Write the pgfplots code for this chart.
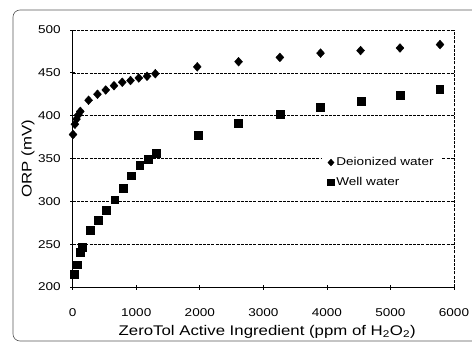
\documentclass[border=0pt]{standalone}
\usepackage{pgfplots}
\pgfplotsset{compat=1.18}
\usepackage{fontspec}
\setmainfont[FakeStretch=1.2]{Liberation Sans}
\begin{document}
\begin{tikzpicture}[x=1pt,y=1pt]
\useasboundingbox (0,0) rectangle (472,349);
\draw[gray!70!black,line width=0.6pt,rounded corners=7pt] (473,339) -- (13,339) -- (13,8) -- (473,8);
\begin{axis}[
  at={(72.7pt,62pt)}, anchor=south west,
  width=381.3pt, height=257pt, scale only axis,
  xmin=0, xmax=6000, ymin=200, ymax=500,
  xtick={0,1000,...,6000}, ytick={200,250,...,500},
  axis x line*=bottom, axis y line*=left,
  axis line style={-, line width=0.9pt},
  tick align=center, major tick length=5pt,
  tick style={black, line width=0.8pt},
  ymajorgrids,
  major grid style={black, line width=0.6pt, dash pattern=on 3pt off 1.2pt},
  font=\fontsize{11.3}{13}\selectfont,
  /pgf/number format/assume math mode=true,
  /pgf/number format/1000 sep={},
  xticklabel style={yshift=-16pt},
  yticklabel style={xshift=-6pt},
  xlabel={ZeroTol Active Ingredient (ppm of H\textsubscript{2}O\textsubscript{2})},
  ylabel={ORP (mV)},
  label style={font=\fontsize{14}{16}\selectfont},
  xlabel style={at={(axis description cs:0.51,-0.175)}, anchor=center},
  ylabel style={at={(axis description cs:-0.117,0.5)}, anchor=center},
  legend style={at={(axis cs:3913,357)}, anchor=north west, draw=none, fill=white,
    font=\fontsize{11.3}{13}\selectfont, row sep=6pt, inner xsep=6pt, inner ysep=3pt,
    legend cell align=left},
  legend image code/.code={\draw[mark repeat=2,mark phase=2,#1] plot coordinates {(0pt,0pt) (3pt,0pt) (6pt,0pt)};},
  legend image post style={mark size=3.4pt},
  clip=false,
]
\draw[black, line width=0.5pt, dash pattern=on 3pt off 1.2pt] (axis cs:6000,200) -- (axis cs:6000,500);
\addplot[only marks, mark=diamond*, mark size=4.4pt, mark options={xscale=1.2}, black] coordinates {
(5,378)(35,390)(60,396)(90,401)(120,405)(250,418)(390,425)(520,430)(650,435)(780,439)(910,441)(1040,444)(1170,446)(1300,449)(1960,457)(2610,463)(3260,468)(3900,473)(4530,476)(5150,479)(5780,483)
};
\addlegendentry{Deionized water}
\addplot[only marks, mark=square*, mark size=3.9pt, black] coordinates {
(20,215)(70,226)(115,241)(145,246)(270,266)(400,278)(530,290)(660,302)(790,315)(920,330)(1055,342)(1185,349)(1315,356)(1970,377)(2610,391)(3265,402)(3895,410)(4535,417)(5150,424)(5775,431)
};
\addlegendentry{Well water}
\end{axis}
\end{tikzpicture}
\end{document}
